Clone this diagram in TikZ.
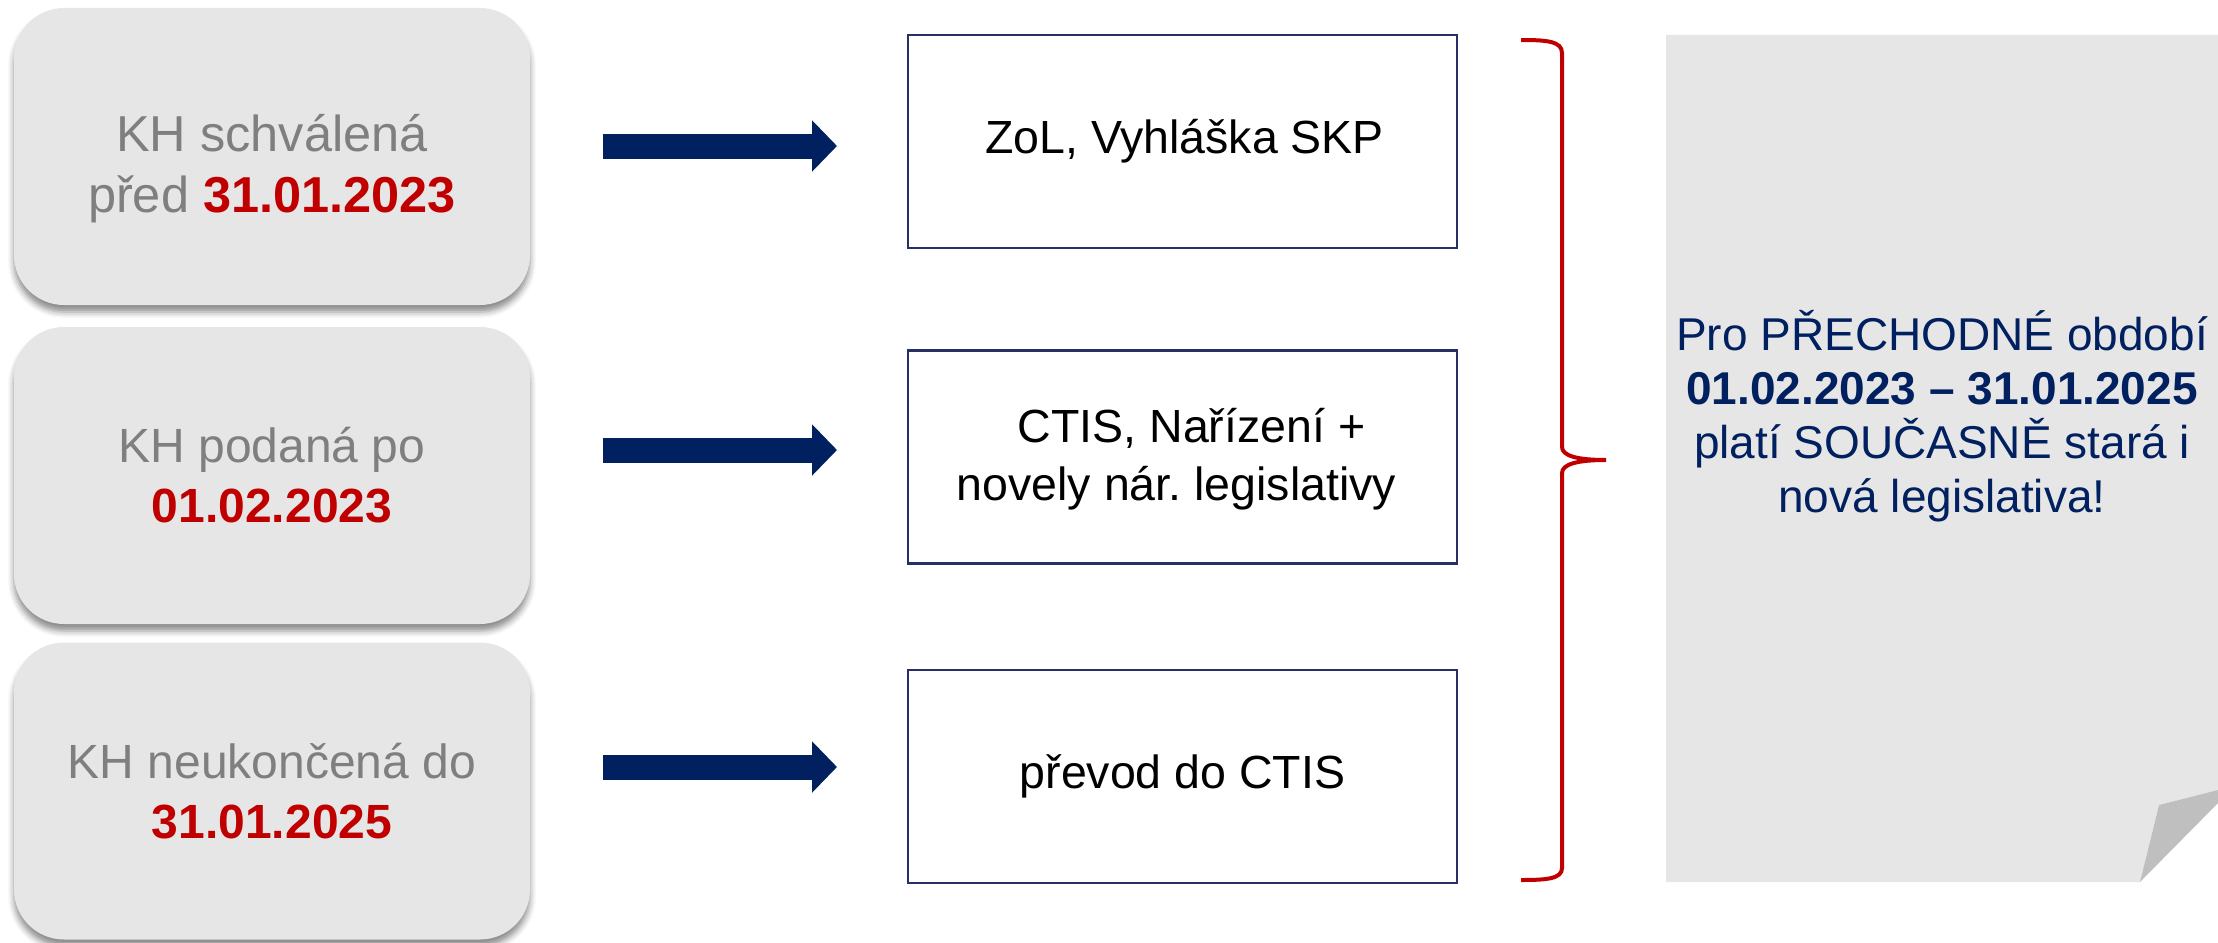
\documentclass[tikz,border=0pt]{standalone}
\usepackage{fontspec}
\setmainfont{Liberation Sans}
\frenchspacing
\usetikzlibrary{arrows.meta,shadows.blur}
\definecolor{panelgrey}{HTML}{E7E6E6}
\definecolor{txtgrey}{HTML}{7F7F7F}
\definecolor{datered}{HTML}{C00000}
\definecolor{navy}{HTML}{002060}
\definecolor{boxnavy}{RGB}{38,48,100}
\definecolor{foldgrey}{HTML}{BFBFBF}
\tikzset{
  lbox/.style={fill=panelgrey, rounded corners=50pt, minimum width=516pt, minimum height=297pt,
    blur shadow={shadow xshift=0pt, shadow yshift=-7pt, shadow blur radius=6pt, shadow opacity=45}},
  ltext/.style={align=center, text=txtgrey, font=\fontsize{48}{60}\selectfont},
  mbox/.style={draw=boxnavy, line width=2.5pt, fill=white, minimum width=549pt, minimum height=213pt},
  mtext/.style={align=center, text=black, font=\fontsize{46.5}{58}\selectfont},
  blockarrow/.style={draw=navy, line width=25pt, -{Triangle[length=25pt,width=50pt]}},
  bracestyle/.style={draw=datered, line width=4pt},
  rtext/.style={align=center, text=navy, font=\fontsize{46}{54}\selectfont}
}
\newcommand{\rd}[1]{\textcolor{datered}{\textbf{#1}}}
\begin{document}
\begin{tikzpicture}[x=1pt,y=-1pt]
\useasboundingbox (0,0) rectangle (2218,942);
% left boxes
\node[lbox] (l1) at (272,156.5) {};
\node[lbox] (l2) at (272,475.5) {};
\node[lbox] (l3) at (272,791) {};
\node[ltext, font=\fontsize{50.5}{61}\selectfont] (l1t) at ([yshift=-12pt]l1.center) {KH schválená\\před \rd{31.01.2023}};
\node[ltext] (l2t) at (l2.center) {KH podaná po\\\rd{01.02.2023}};
\node[ltext] (l3t) at (l3.center) {KH neukončená do\\\rd{31.01.2025}};
% middle boxes
\node[mbox] (m1) at (1182.5,141.5) {};
\node[mbox] (m2) at (1182.5,457) {};
\node[mbox] (m3) at (1182.5,776.5) {};
\node[mtext] (m1t) at ([xshift=2pt]m1.center) {ZoL, Vyhláška SKP};
\node[mtext] (m2t) at ([xshift=-6pt,yshift=-2pt]m2.center) {\hspace*{30pt}CTIS, Nařízení +\\novely nár. legislativy};
\node[mtext] (m3t) at (m3.center) {převod do CTIS};
% arrows
\coordinate (a1s) at (603,146); \coordinate (a1e) at (837,146);
\coordinate (a2s) at (603,450); \coordinate (a2e) at (837,450);
\coordinate (a3s) at (603,767); \coordinate (a3e) at (837,767);
\draw[blockarrow] (a1s) -- (a1e);
\draw[blockarrow] (a2s) -- (a2e);
\draw[blockarrow] (a3s) -- (a3e);
% brace
\draw[bracestyle] (1521,40) .. controls (1546,40) and (1562,41) .. (1562,53)
  -- (1562,447) .. controls (1562,456) and (1578,460) .. (1606,460)
  .. controls (1578,460) and (1562,464) .. (1562,473)
  -- (1562,868) .. controls (1562,879) and (1546,880) .. (1521,880);
% right panel
\fill[panelgrey] (1666,35) -- (2218,35) -- (2218,790) -- (2159,805) -- (2140,882) -- (1666,882) -- cycle;
\fill[foldgrey] (2159,805) -- (2218,790) -- (2218,803) -- (2140,882) -- cycle;
\node[rtext] (r) at (1942,416) {Pro PŘECHODNÉ období\\\textbf{01.02.2023 – 31.01.2025}\\platí SOUČASNĚ stará i\\nová legislativa!};
\end{tikzpicture}
\end{document}
